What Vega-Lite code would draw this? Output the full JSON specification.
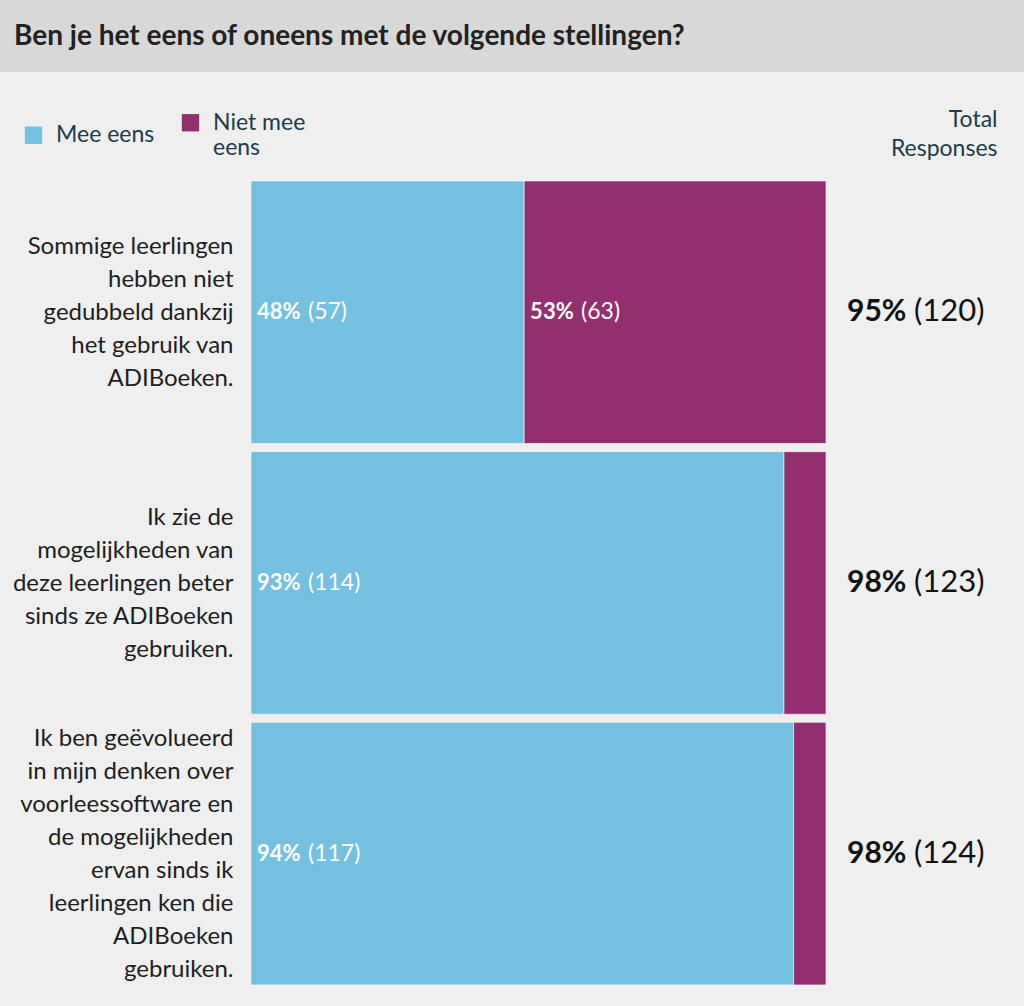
{
  "$schema": "https://vega.github.io/schema/vega-lite/v6.json",
  "width": 1024,
  "height": 934,
  "padding": {"top": 72, "left": 0, "right": 0, "bottom": 0},
  "autosize": {"type": "none"},
  "background": "#d8d8d8",
  "config": {
    "view": {"fill": "#efefef", "stroke": null},
    "font": "Lato",
    "text": {"font": "Lato"}
  },
  "title": {
    "text": "Ben je het eens of oneens met de volgende stellingen?",
    "anchor": "start",
    "frame": "group",
    "dx": 14,
    "offset": -1,
    "baseline": "alphabetic",
    "fontSize": 28,
    "fontWeight": "bold",
    "color": "#222222",
    "font": "Lato"
  },
  "datasets": {
    "bars": [
      {"statement": "Sommige leerlingen|hebben niet|gedubbeld dankzij|het gebruik van|ADIBoeken.", "response": "Mee eens", "count": 57, "pct": "48%", "countLabel": "(57)"},
      {"statement": "Sommige leerlingen|hebben niet|gedubbeld dankzij|het gebruik van|ADIBoeken.", "response": "Niet mee eens", "count": 63, "pct": "53%", "countLabel": "(63)"},
      {"statement": "Ik zie de|mogelijkheden van|deze leerlingen beter|sinds ze ADIBoeken|gebruiken.", "response": "Mee eens", "count": 114, "pct": "93%", "countLabel": "(114)"},
      {"statement": "Ik zie de|mogelijkheden van|deze leerlingen beter|sinds ze ADIBoeken|gebruiken.", "response": "Niet mee eens", "count": 9, "pct": "7%", "countLabel": "(9)"},
      {"statement": "Ik ben geëvolueerd|in mijn denken over|voorleessoftware en|de mogelijkheden|ervan sinds ik|leerlingen ken die|ADIBoeken|gebruiken.", "response": "Mee eens", "count": 117, "pct": "94%", "countLabel": "(117)"},
      {"statement": "Ik ben geëvolueerd|in mijn denken over|voorleessoftware en|de mogelijkheden|ervan sinds ik|leerlingen ken die|ADIBoeken|gebruiken.", "response": "Niet mee eens", "count": 7, "pct": "6%", "countLabel": "(7)"}
    ],
    "totals": [
      {"statement": "Sommige leerlingen|hebben niet|gedubbeld dankzij|het gebruik van|ADIBoeken.", "pct": "95%", "nLabel": "(120)"},
      {"statement": "Ik zie de|mogelijkheden van|deze leerlingen beter|sinds ze ADIBoeken|gebruiken.", "pct": "98%", "nLabel": "(123)"},
      {"statement": "Ik ben geëvolueerd|in mijn denken over|voorleessoftware en|de mogelijkheden|ervan sinds ik|leerlingen ken die|ADIBoeken|gebruiken.", "pct": "98%", "nLabel": "(124)"}
    ]
  },
  "layer": [
    {
      "data": {"name": "bars"},
      "transform": [
        {"stack": "count", "groupby": ["statement"], "sort": [{"field": "response", "order": "ascending"}], "as": ["x0", "x1"], "offset": "normalize"}
      ],
      "encoding": {
        "y": {
          "field": "statement", "type": "nominal", "sort": null,
          "scale": {"paddingInner": 0.03, "paddingOuter": 0.2401, "align": 0.838},
          "axis": {
            "title": null, "orient": "left", "offset": -251, "labelPadding": 18,
            "domain": false, "ticks": false, "grid": false,
            "labelExpr": "split(datum.label, '|')",
            "labelOffset": {"expr": "-(length(split(datum.label, '|')) - 1) * 16.5 + 1"},
            "labelFontSize": 24, "labelLineHeight": 33, "labelColor": "#1e1e1e",
            "labelFont": "Lato", "labelLimit": 0, "labelAlign": "right", "labelBaseline": "middle"
          }
        },
        "x": {
          "field": "x0", "type": "quantitative",
          "scale": {"domain": [-0.43652, 1.34435], "nice": false, "zero": false},
          "axis": {
            "orient": "top", "domain": false, "ticks": false, "labels": false, "grid": false,
            "title": ["Total", "Responses"], "titleX": 997, "titleY": 36, "titleAlign": "right",
            "titleAnchor": null, "titleBaseline": "top", "titleFontSize": 23, "titleFontWeight": "normal",
            "titleColor": "#1d3b4a", "titleLineHeight": 29, "titleFont": "Lato", "titleAngle": 0
          }
        }
      },
      "layer": [
        {
          "mark": {"type": "bar", "stroke": "#ffffff", "strokeWidth": 1, "strokeOpacity": 0.6},
          "encoding": {
            "x2": {"field": "x1"},
            "color": {
              "field": "response", "type": "nominal",
              "scale": {"domain": ["Mee eens", "Niet mee eens"], "range": ["#74c0e0", "#942f6f"]},
              "legend": {
                "orient": "none", "legendX": 22, "legendY": 39, "direction": "horizontal",
                "title": null, "symbolType": "square", "symbolSize": 300, "symbolStrokeWidth": 0,
                "labelFontSize": 23, "labelColor": "#1d3b4a", "labelFont": "Lato",
                "labelOffset": 11, "columnPadding": 24, "labelLimit": 300,
                "labelExpr": "datum.label == 'Niet mee eens' ? ['Niet mee', 'eens'] : datum.label"
              }
            }
          }
        },
        {
          "transform": [{"filter": "datum.count > 20"}],
          "mark": {"type": "text", "align": "left", "baseline": "middle", "dx": 6, "fontSize": 22, "fontWeight": "bold", "color": "#ffffff"},
          "encoding": {"text": {"field": "pct"}}
        },
        {
          "transform": [{"filter": "datum.count > 20"}],
          "mark": {"type": "text", "align": "left", "baseline": "middle", "dx": 57, "fontSize": 23, "color": "#ffffff"},
          "encoding": {"text": {"field": "countLabel"}}
        }
      ]
    },
    {
      "data": {"name": "totals"},
      "encoding": {
        "y": {"field": "statement", "type": "nominal", "sort": null},
        "x": {
          "datum": 1.0365, "type": "quantitative",
          "axis": {
            "orient": "top", "domain": false, "ticks": false, "labels": false, "grid": false,
            "title": ["Total", "Responses"], "titleX": 997, "titleY": 36, "titleAlign": "right",
            "titleAnchor": null, "titleBaseline": "top", "titleFontSize": 23, "titleFontWeight": "normal",
            "titleColor": "#1d3b4a", "titleLineHeight": 29, "titleFont": "Lato", "titleAngle": 0
          }
        }
      },
      "layer": [
        {
          "mark": {"type": "text", "align": "left", "baseline": "middle", "fontSize": 30, "fontWeight": "bold", "color": "#111111"},
          "encoding": {"text": {"field": "pct"}}
        },
        {
          "mark": {"type": "text", "align": "left", "baseline": "middle", "dx": 67, "fontSize": 31, "color": "#111111"},
          "encoding": {"text": {"field": "nLabel"}}
        }
      ]
    }
  ]
}
